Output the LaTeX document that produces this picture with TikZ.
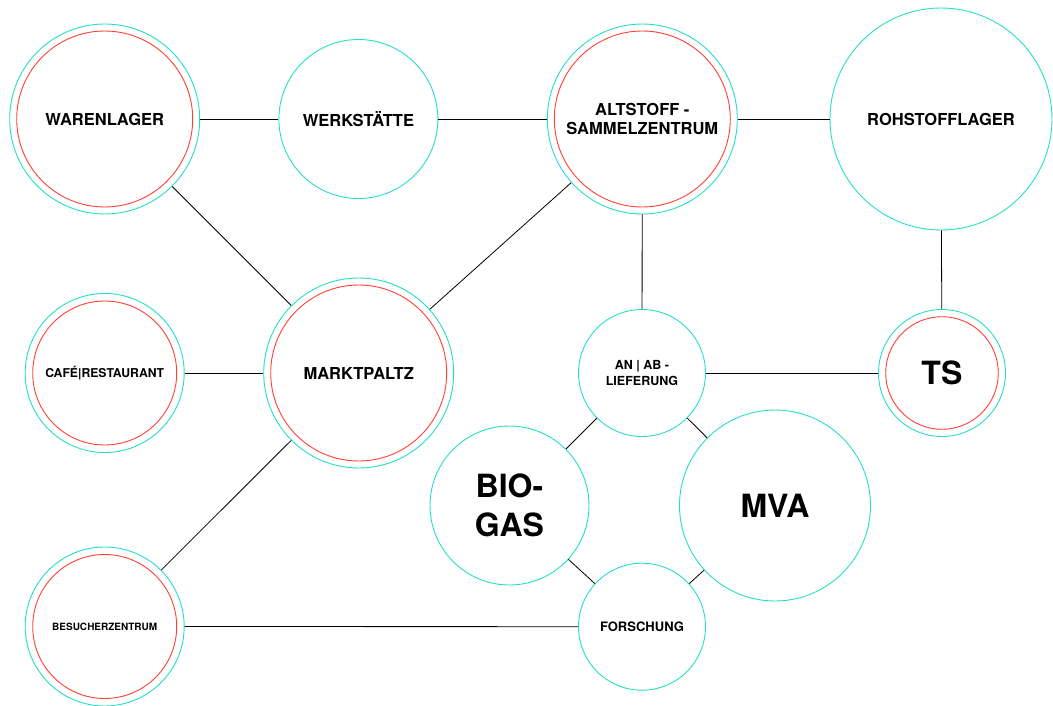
\documentclass[tikz,border=0pt]{standalone}
\usepackage{fontspec}
\setmainfont{TeX Gyre Heros}
\definecolor{ringteal}{RGB}{38,222,198}
\definecolor{ringred}{RGB}{255,64,52}
\begin{document}
\begin{tikzpicture}[x=1pt,y=-1pt,
  ring/.style={circle,draw=ringteal,line width=0.9pt,inner sep=0pt,align=center,font=\bfseries},
  redring/.style={draw=ringred,line width=0.9pt},
  link/.style={draw=black,line width=0.8pt},
  big/.style={font=\bfseries\fontsize{16.5}{19}\selectfont},
  mid/.style={font=\bfseries\fontsize{12.5}{16}\selectfont},
  huge/.style={font=\bfseries\fontsize{32}{38.5}\selectfont}]
\useasboundingbox (0,0) rectangle (1053,706);
\node[ring,big,minimum size=190pt] (war) at (104.7,119) {WARENLAGER};
\node[ring,big,minimum size=159pt] (werk) at (358.4,119) {WERKSTÄTTE};
\node[ring,big,minimum size=190pt] (alt) at (642.3,119) {ALTSTOFF -\\SAMMELZENTRUM};
\node[ring,big,minimum size=222pt] (roh) at (941,119) {ROHSTOFFLAGER};
\node[ring,font=\bfseries\fontsize{12.2}{15}\selectfont,minimum size=159pt] (cafe) at (104.7,373) {CAFÉ|RESTAURANT};
\node[ring,big,minimum size=190pt] (markt) at (358.7,373) {MARKTPALTZ};
\node[ring,mid,minimum size=127pt] (anab) at (642,373) {AN | AB -\\LIEFERUNG};
\node[ring,huge,minimum size=127pt] (ts) at (942,373) {TS};
\node[ring,huge,minimum size=159pt] (bio) at (509.5,505.5) {BIO-\\GAS};
\node[ring,huge,minimum size=191pt] (mva) at (775,505.5) {MVA};
\node[ring,font=\bfseries\fontsize{10}{12}\selectfont,minimum size=159pt] (bes) at (104.7,626.5) {BESUCHERZENTRUM};
\node[ring,font=\bfseries\fontsize{13}{16}\selectfont,minimum size=127pt] (for) at (642,626.7) {FORSCHUNG};
\draw[redring] (war.center) circle (88pt);
\draw[redring] (alt.center) circle (88pt);
\draw[redring] (cafe.center) circle (72pt);
\draw[redring] (markt.center) circle (88pt);
\draw[redring] (ts.center) circle (56.3pt);
\draw[redring] (bes.center) circle (72pt);
\draw[link] (war) -- (werk);
\draw[link] (werk) -- (alt);
\draw[link] (alt) -- (roh);
\draw[link] (war) -- (markt);
\draw[link] (alt) -- (markt);
\draw[link] (alt) -- (anab);
\draw[link] (roh) -- (ts);
\draw[link] (cafe) -- (markt);
\draw[link] (anab) -- (ts);
\draw[link] (anab) -- (bio);
\draw[link] (anab) -- (mva);
\draw[link] (bio) -- (for);
\draw[link] (mva) -- (for);
\draw[link] (markt) -- (bes);
\draw[link] (bes) -- (for);
\end{tikzpicture}
\end{document}
